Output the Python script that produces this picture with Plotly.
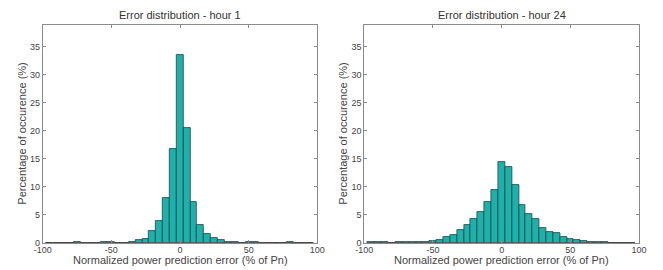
import plotly.graph_objects as go

# ---- data ----
bin_centers = [-95, -90, -85, -80, -75, -70, -65, -60, -55, -50, -45, -40, -35, -30, -25, -20, -15, -10, -5,
               0, 5, 10, 15, 20, 25, 30, 35, 40, 45, 50, 55, 60, 65, 70, 75, 80, 85, 90, 95]

hour1_pct = [0.0, 0.0, 0.0, 0.0, 0.1, 0.0, 0.0, 0.05, 0.1, 0.1, 0.05, 0.05, 0.2, 0.5, 0.8, 2.1, 4.0, 8.1, 16.8,
             33.6, 20.6, 7.3, 3.2, 1.6, 0.9, 0.45, 0.25, 0.15, 0.05, 0.1, 0.1, 0.0, 0.0, 0.0, 0.0, 0.1, 0.0, 0.0, 0.0]

hour24_pct = [0.1, 0.12, 0.1, 0.08, 0.1, 0.1, 0.15, 0.2, 0.25, 0.35, 0.55, 1.0, 1.5, 2.4, 3.3, 4.2, 5.5, 7.4, 9.4,
              14.4, 13.6, 10.4, 6.8, 5.1, 4.2, 2.7, 2.0, 1.7, 1.1, 0.7, 0.5, 0.3, 0.2, 0.15, 0.1, 0.08, 0.05, 0.05, 0.05]

x_ticks = [-100, -50, 0, 50, 100]
y_ticks = [0, 5, 10, 15, 20, 25, 30, 35]

titles = ["Error distribution - hour 1", "Error distribution - hour 24"]
x_label = "Normalized power prediction error (% of Pn)"
y_label = "Percentage of occurence (%)"

# ---- style ----
W, H = 663, 270
bar_fill = "#19b3ae"
bar_edge = "#3a3a3a"
frame_col = "#8a8a8a"
text_col = "#444444"
font_fam = "Liberation Sans, Arial, sans-serif"

dom_x = [[42.7 / W, 317.3 / W], [364.3 / W, 639.0 / W]]
dom_y = [(H - 243) / H, (H - 25) / H]

fig = go.Figure()
for i, vals in enumerate([hour1_pct, hour24_pct]):
    suffix = "" if i == 0 else "2"
    fig.add_trace(go.Bar(
        x=bin_centers, y=vals, width=5,
        marker=dict(color=bar_fill, line=dict(color=bar_edge, width=0.8)),
        xaxis="x" + suffix, yaxis="y" + suffix, showlegend=False, hoverinfo="x+y",
    ))

axis_common = dict(
    showline=True, linecolor=frame_col, linewidth=1, mirror="ticks",
    ticks="inside", ticklen=3, tickcolor=frame_col, tickwidth=1,
    showgrid=False, zeroline=False, automargin=False,
    tickfont=dict(family=font_fam, size=9, color=text_col),
)

layout = dict(
    width=W, height=H, margin=dict(l=0, r=0, t=0, b=0),
    paper_bgcolor="white", plot_bgcolor="white",
    font=dict(family=font_fam, color=text_col),
    bargap=0,
)
for i in range(2):
    suffix = "" if i == 0 else "2"
    layout["xaxis" + suffix] = dict(axis_common, domain=dom_x[i], range=[-100, 100],
                                    tickvals=x_ticks, ticktext=[str(v) for v in x_ticks],
                                    ticklabelstandoff=-2, anchor="y" + suffix)
    layout["yaxis" + suffix] = dict(axis_common, domain=dom_y, range=[0, 38.9],
                                    tickvals=y_ticks, ticktext=[str(v) for v in y_ticks],
                                    anchor="x" + suffix)
fig.update_layout(**layout)

annotations = []
centers = [(dom_x[0][0] + dom_x[0][1]) / 2, (dom_x[1][0] + dom_x[1][1]) / 2]
ylabel_x = [21.7 / W, 342.7 / W]
ymid = (dom_y[0] + dom_y[1]) / 2
for i in range(2):
    annotations.append(dict(text=titles[i], x=centers[i], y=(H - 15) / H, xref="paper", yref="paper",
                            xanchor="center", yanchor="middle", showarrow=False,
                            font=dict(family=font_fam, size=11, color="#333333")))
    annotations.append(dict(text=x_label, x=centers[i], y=(H - 260) / H, xref="paper", yref="paper",
                            xanchor="center", yanchor="middle", showarrow=False,
                            font=dict(family=font_fam, size=11, color=text_col)))
    annotations.append(dict(text=y_label, x=ylabel_x[i], y=ymid, xref="paper", yref="paper",
                            xanchor="center", yanchor="middle", showarrow=False, textangle=-90,
                            font=dict(family=font_fam, size=11, color=text_col)))
fig.update_layout(annotations=annotations)

fig.write_html(
    "out.html",
    config={"displayModeBar": False},
    post_script="document.documentElement.style.margin='0';document.body.style.margin='0';"
                "document.body.style.overflow='hidden';",
)
